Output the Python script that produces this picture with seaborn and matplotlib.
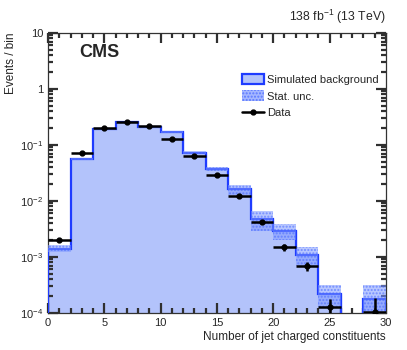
import numpy as np
import matplotlib
matplotlib.use("Agg")
import matplotlib.pyplot as plt
import matplotlib.ticker as mticker
from matplotlib.patches import Patch
from matplotlib.lines import Line2D
import pandas as pd
import seaborn as sns

# bins of the number of jet charged constituents
bin_edges = [0, 2, 4, 6, 8, 10, 12, 14, 16, 18, 20, 22, 24, 26, 28, 30]
mc_yield = [0.0014, 0.056, 0.19, 0.255, 0.21, 0.17, 0.073, 0.037, 0.016,
            0.0047, 0.0029, 0.0011, 0.00022, 0.0, 0.00018]
mc_unc = [0.0002, 0.002, 0.005, 0.006, 0.006, 0.01, 0.004, 0.0035, 0.003,
          0.0018, 0.0009, 0.0004, 0.00009, 0.0, 0.00014]
data_yield = [0.0020, 0.071, 0.20, 0.26, 0.216, 0.13, 0.064, 0.029, 0.0123,
              0.0042, 0.0015, 0.00069, 0.000125, np.nan, 0.000105]
data_err = [0.0001, 0.002, 0.004, 0.005, 0.004, 0.003, 0.002, 0.001, 0.0006,
            0.0003, 0.0002, 0.00013, 0.00005, np.nan, 0.00008]

sns.set_style("ticks")
plt.rcParams['font.family'] = ['Liberation Sans', 'DejaVu Sans']
plt.rcParams['mathtext.fontset'] = 'custom'
plt.rcParams['mathtext.rm'] = 'Liberation Sans'

edges = np.array(bin_edges, dtype=float)
centers = 0.5 * (edges[:-1] + edges[1:])
widths = np.diff(edges)
mc = np.array(mc_yield)
unc = np.array(mc_unc)
df = pd.DataFrame({'nconst': centers, 'mc': mc})

fig = plt.figure(figsize=(4.07, 3.5), dpi=100)
ax = fig.add_axes([0.118, 0.106, 0.830, 0.800])

fill_col = '#b3c3fb'
line_col = '#1f3cff'

sns.histplot(data=df, x='nconst', weights='mc', bins=bin_edges, element="step",
             fill=True, color=fill_col, alpha=1.0, ax=ax)
# redraw the outline in the darker blue
ax.stairs(mc, edges, color=line_col, linewidth=1.6, zorder=3)

# stat. uncertainty band
band = mc > 0
ax.bar(edges[:-1][band], 2 * unc[band], width=widths[band],
       bottom=(mc - unc)[band], align='edge', facecolor='#7f99ff', alpha=0.55,
       edgecolor='#3f62ff', hatch='.....', linewidth=0, zorder=3)

ax.errorbar(centers, data_yield, xerr=widths / 2, yerr=data_err, fmt='o',
            color='black', markersize=3.5, elinewidth=1.8, capsize=0, zorder=4)

ax.set_yscale('log')
ax.set_ylim(1e-4, 10)
ax.set_xlim(0, 30)

def y_fmt(v, pos):
    if v >= 1:
        return f"{int(round(v))}"
    return r"$10^{%d}$" % int(round(np.log10(v)))

ax.yaxis.set_major_locator(mticker.LogLocator(base=10, numticks=10))
ax.yaxis.set_major_formatter(mticker.FuncFormatter(y_fmt))
ax.yaxis.set_minor_locator(mticker.LogLocator(base=10, subs=np.arange(2, 10), numticks=20))
ax.yaxis.set_minor_formatter(mticker.NullFormatter())
ax.xaxis.set_major_locator(mticker.MultipleLocator(5))
ax.xaxis.set_minor_locator(mticker.MultipleLocator(1))

ax.set_axisbelow(False)
ax.tick_params(which='both', direction='in', top=True, right=True, labelsize=8,
               color='#303030', width=1.6)
ax.tick_params(which='major', length=7)
ax.tick_params(which='minor', length=3.5)
for s in ax.spines.values():
    s.set_linewidth(0.9)
    s.set_color('#333333')

ax.set_xlabel("Number of jet charged constituents", fontsize=8.5, loc='right', labelpad=2)
ax.set_ylabel("Events / bin", fontsize=8.5, loc='top', labelpad=2)

ax.text(0.093, 0.962, "CMS", transform=ax.transAxes, fontsize=13,
        fontweight='bold', va='top', ha='left')
ax.text(1.0, 1.025, r"138 fb$^{-1}$ (13 TeV)", transform=ax.transAxes,
        fontsize=8.8, ha='right', va='bottom')

handles = [
    Patch(facecolor=fill_col, edgecolor=line_col, linewidth=1.6),
    Patch(facecolor='#7f99ff', alpha=0.7, edgecolor='#3f62ff', hatch='.....', linewidth=0),
    Line2D([0], [0], color='black', marker='o', markersize=3.5, linewidth=1.8),
]
labels = ["Simulated background", "Stat. unc.", "Data"]
ax.legend(handles, labels, loc='upper left', bbox_to_anchor=(0.56, 0.87),
          frameon=False, fontsize=8, handlelength=2.0, handleheight=1.1,
          handletextpad=0.3, labelspacing=0.5, borderaxespad=0)

fig.savefig("out.png", dpi=100)
